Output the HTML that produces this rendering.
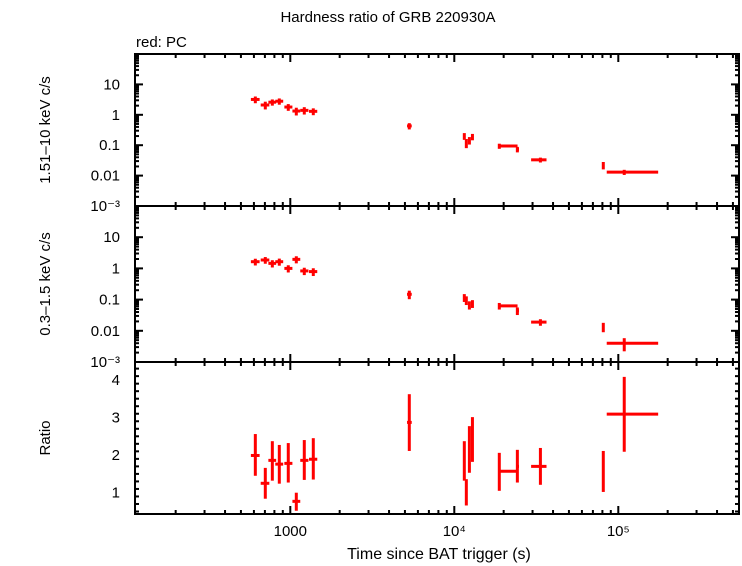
<!DOCTYPE html>
<html><head><meta charset="utf-8"><style>
html,body{margin:0;padding:0;background:#fff}
svg{display:block;font-family:"Liberation Sans",sans-serif}
</style></head><body>
<svg id="chart" width="742" height="566" viewBox="0 0 742 566" xmlns="http://www.w3.org/2000/svg">
<text x="388" y="22" text-anchor="middle" font-size="15">Hardness ratio of GRB 220930A</text>
<text x="136" y="47" font-size="15">red: PC</text>
<text transform="translate(50,130) rotate(-90)" text-anchor="middle" font-size="15">1.51–10 keV c/s</text>
<text transform="translate(50,284) rotate(-90)" text-anchor="middle" font-size="15">0.3–1.5 keV c/s</text>
<text transform="translate(50,438) rotate(-90)" text-anchor="middle" font-size="15">Ratio</text>
<text x="439" y="559" text-anchor="middle" font-size="16">Time since BAT trigger (s)</text>
<g id="g"></g>
</svg>
<script>
const times = [612,704,777,857,972,1088,1217,1381,5316,11510,11840,12360,12900,18810,24240,33500,81000,108700];
const timeLo = [575,660,735,810,920,1030,1150,1300,5150,11350,11680,12200,12730,18810,23800,29400,80000,85000];
const timeHi = [650,745,820,905,1030,1150,1290,1460,5500,11670,12000,12520,13070,24300,24800,36500,82000,175000];
const hardRate = [3.2,2.1,2.6,2.8,1.8,1.33,1.4,1.3,0.43,0.2,0.12,0.145,0.19,0.094,0.073,0.033,0.022,0.013];
const hardErr = [0.8,0.6,0.6,0.65,0.45,0.38,0.38,0.33,0.1,0.05,0.04,0.04,0.045,0.018,0.015,0.006,0.006,0.0025];
const softRate = [1.64,1.86,1.45,1.64,1.0,1.95,0.83,0.79,0.148,0.117,0.097,0.068,0.075,0.063,0.044,0.019,0.0135,0.004];
const softErr = [0.4,0.45,0.38,0.42,0.26,0.5,0.22,0.22,0.045,0.033,0.03,0.02,0.021,0.015,0.012,0.0045,0.0045,0.0018];
const ratio = [1.99,1.25,1.86,1.76,1.78,0.77,1.86,1.89,2.87,1.86,1.01,2.15,2.42,1.57,1.70,1.70,1.57,3.09];
const ratioLo = [1.45,0.84,1.32,1.24,1.27,0.52,1.34,1.35,2.11,1.32,0.66,1.53,1.82,1.05,1.27,1.21,1.02,2.09];
const ratioHi = [2.56,1.66,2.37,2.27,2.32,1.0,2.40,2.45,3.62,2.37,1.36,2.77,3.01,2.06,2.14,2.19,2.11,4.08];
const logRateTicks = [-3,-2,-1,0,1];
const logRateLabels = ["10\u207B\u00B3","0.01","0.1","1","10"];
const ratioTicks = [1,2,3,4];
const xMajor = [3,4,5];
const xMajorLabels = ["1000","10⁴","10⁵"];

const L=135,R=739;
const panels=[{top:54,bot:206},{top:206,bot:362},{top:362,bot:514}];
function xs(t){return 290.3+164*Math.log10(t/1000);}
function yLog(p,v){const P=panels[p];return P.bot-(Math.log10(v)+3)/5*(P.bot-P.top);}
function yRatio(r){return 492.7-37.6*(r-1);}
const NS="http://www.w3.org/2000/svg";
const g=document.getElementById('g');
function el(tag,attrs,parent){const e=document.createElementNS(NS,tag);for(const k in attrs)e.setAttribute(k,attrs[k]);(parent||g).appendChild(e);return e;}
function line(x1,y1,x2,y2,c,w,name){const e=el('line',{x1:x1,y1:y1,x2:x2,y2:y2,stroke:c,'stroke-width':w});


return e;}
function txt(x,y,s,anchor,name){const e=el('text',{x:x,y:y,'text-anchor':anchor,'font-size':15});e.textContent=s;


return e;}

panels.forEach((P,pi)=>{
  const f=el('rect',{x:L,y:P.top,width:R-L,height:P.bot-P.top,fill:'none',stroke:'#000','stroke-width':2});
  
  
  for(let d=2;d<=5;d++){for(let m=1;m<=9;m++){const t=m*Math.pow(10,d);const x=xs(t);if(x<L||x>R)continue;const len=m==1?8:4;
    line(x,P.top,x,P.top+len,'#000',2,'x-tick');line(x,P.bot,x,P.bot-len,'#000',2,'x-tick');}}
  if(pi<2){
    for(let d=-3;d<2;d++){for(let m=1;m<=9;m++){const v=m*Math.pow(10,d);const y=yLog(pi,v);if(y<P.top)continue;const len=m==1?8:4;
      line(L,y,L+len,y,'#000',2,'y-tick');line(R,y,R-len,y,'#000',2,'y-tick');}}
    logRateTicks.forEach((lv,i)=>{txt(120,yLog(pi,Math.pow(10,lv))+5,logRateLabels[i],'end','y-tick-label');});
  } else {
    for(let r=0.5;r<=4.5;r+=0.2){const rr=Math.round(r*10)/10;const y=yRatio(rr);if(y<P.top||y>P.bot)continue;const maj=Math.abs(rr-Math.round(rr))<1e-6;const len=maj?8:4;
      line(L,y,L+len,y,'#000',2,'y-tick');line(R,y,R-len,y,'#000',2,'y-tick');}
    ratioTicks.forEach(r=>txt(120,yRatio(r)+5,String(r),'end','y-tick-label'));
  }
});
xMajor.forEach((d,i)=>txt(xs(Math.pow(10,d)),536,xMajorLabels[i],'middle','x-tick-label'));

const red='#ff0000';
times.forEach((t,i)=>{
  const x=xs(t),x1=xs(timeLo[i]),x2=xs(timeHi[i]);
  let y=yLog(0,hardRate[i]);
  line(x1,y,x2,y,red,3,'hard-xerr');
  line(x,yLog(0,hardRate[i]+hardErr[i]),x,yLog(0,Math.max(hardRate[i]-hardErr[i],1e-4)),red,3,'hard-yerr');
  y=yLog(1,softRate[i]);
  line(x1,y,x2,y,red,3,'soft-xerr');
  line(x,yLog(1,softRate[i]+softErr[i]),x,yLog(1,Math.max(softRate[i]-softErr[i],1e-4)),red,3,'soft-yerr');
  y=yRatio(ratio[i]);
  line(x1,y,x2,y,red,3,'ratio-xerr');
  line(x,yRatio(ratioHi[i]),x,yRatio(ratioLo[i]),red,3,'ratio-yerr');
});
</script>
</body></html>
